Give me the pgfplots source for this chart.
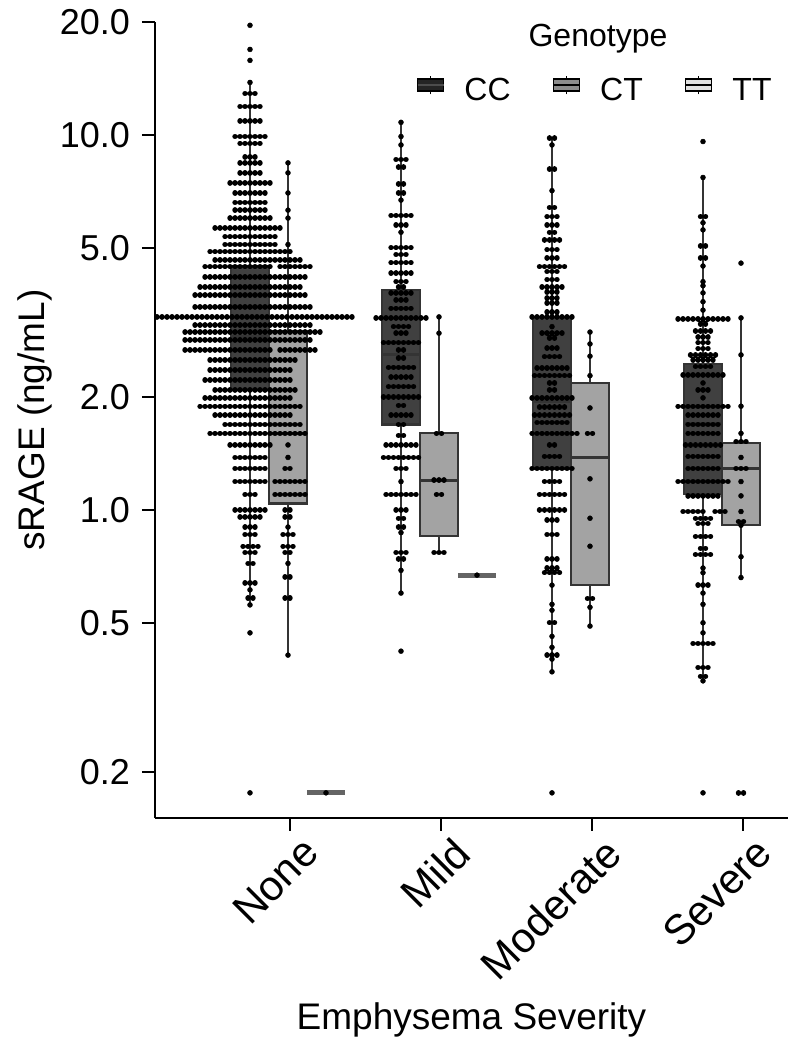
\documentclass[border=0pt]{standalone}
\usepackage{fontspec}
\setmainfont{Liberation Sans}
\usepackage{pgfplots}
\pgfplotsset{compat=1.18}
\definecolor{ccfill}{RGB}{64,64,64}
\definecolor{ctfill}{RGB}{163,163,163}
\definecolor{edge}{RGB}{52,52,52}
\definecolor{ttline}{RGB}{100,100,100}
\definecolor{legcc}{RGB}{36,36,36}
\definecolor{legct}{RGB}{140,140,140}
\definecolor{legtt}{RGB}{224,224,224}
\pgfplotsset{
  swarm/.style={black, line width=2.7pt, line cap=round, dash pattern=on 0.01pt off 2.49pt, unbounded coords=jump, mark=none},
  singles/.style={only marks, mark=*, mark size=1.25pt, mark options={fill=black, draw=black, line width=0.2pt}},
  whisk/.style={edge, line width=1.1pt, mark=none},
  bx/.style={draw=edge, line width=1.1pt, mark=none},
  med/.style={edge, line width=1.4pt, mark=none},
}
\begin{document}
\begin{tikzpicture}
\begin{axis}[
  name=ax,
  scale only axis, width=316.5pt, height=398pt,
  xmin=155, xmax=788, ymode=log, ymin=0.1508, ymax=20,
  axis x line*=bottom, axis y line*=left,
  axis line style={line width=1pt, black},
  xtick={290,441,592,743}, xticklabels={None,Mild,Moderate,Severe},
  ytick={0.2,0.5,1,2,5,10,20}, yticklabels={0.2,0.5,1.0,2.0,5.0,10.0,20.0},
  yminorticks=false, xminorticks=false,
  tick align=outside, major tick length=6.5pt,
  tick style={line width=1pt, black},
  yticklabel style={font=\fontsize{18}{20}\selectfont, xshift=-2.5pt},
  xticklabel style={font=\fontsize{21}{23}\selectfont, rotate=45, anchor=north east, inner sep=0pt, xshift=2.5pt, yshift=-5pt},
  xlabel={Emphysema Severity}, ylabel={sRAGE (ng/mL)},
  label style={font=\fontsize{18.5}{21}\selectfont},
  xlabel style={at={(axis description cs:0.5,-0.266)}, anchor=base},
  ylabel style={at={(axis description cs:-0.19,0.5)}, anchor=center},
  legend columns=3,
  legend style={draw=none, fill=none, at={(axis description cs:0.981,0.913)}, anchor=east,
    font=\fontsize{16}{18}\selectfont, inner sep=0pt,
    /tikz/every odd column/.append style={column sep=8pt},
    /tikz/every even column/.append style={column sep=19pt}},
]
\addlegendimage{legend image code/.code={
  \draw[line width=0.8pt, black] (6.5pt,-1.5pt) -- (6.5pt,7.5pt);
  \draw[line width=0.8pt, black, fill=legcc] (0pt,0pt) rectangle (13pt,6pt);
  \draw[line width=0.8pt, black!70] (0pt,3pt) -- (13pt,3pt);}}
\addlegendentry{CC}
\addlegendimage{legend image code/.code={
  \draw[line width=0.8pt, black] (6.5pt,-1.5pt) -- (6.5pt,7.5pt);
  \draw[line width=0.8pt, black, fill=legct] (0pt,0pt) rectangle (13pt,6pt);
  \draw[line width=0.8pt, black] (0pt,3pt) -- (13pt,3pt);}}
\addlegendentry{CT}
\addlegendimage{legend image code/.code={
  \draw[line width=0.8pt, black] (6.5pt,-1.5pt) -- (6.5pt,7.5pt);
  \draw[line width=0.8pt, black, fill=legtt] (0pt,0pt) rectangle (13pt,6pt);
  \draw[line width=0.8pt, black] (0pt,3pt) -- (13pt,3pt);}}
\addlegendentry{TT}

% whiskers
\addplot[whisk] coordinates {(250,0.558) (250,13.8)};
\addplot[whisk] coordinates {(288,0.41) (288,8.42)};
\addplot[whisk] coordinates {(401,0.60) (401,10.8)};
\addplot[whisk] coordinates {(439,0.77) (439,3.27)};
\addplot[whisk] coordinates {(552,0.37) (552,9.8)};
\addplot[whisk] coordinates {(590,0.49) (590,2.98)};
\addplot[whisk] coordinates {(703,0.35) (703,7.7)};
\addplot[whisk] coordinates {(741,0.66) (741,3.25)};
% boxes
\addplot[bx, fill=ccfill] coordinates {(231,2.09) (269,2.09) (269,4.47) (231,4.47)} --cycle;
\addplot[bx, fill=ctfill] coordinates {(269,1.04) (307,1.04) (307,3.0) (269,3.0)} --cycle;
\addplot[bx, fill=ccfill] coordinates {(382,1.69) (420,1.69) (420,3.86) (382,3.86)} --cycle;
\addplot[bx, fill=ctfill] coordinates {(420,0.85) (458,0.85) (458,1.60) (420,1.60)} --cycle;
\addplot[bx, fill=ccfill] coordinates {(533,1.29) (571,1.29) (571,3.27) (533,3.27)} --cycle;
\addplot[bx, fill=ctfill] coordinates {(571,0.63) (609,0.63) (609,2.18) (571,2.18)} --cycle;
\addplot[bx, fill=ccfill] coordinates {(684,1.10) (722,1.10) (722,2.45) (684,2.45)} --cycle;
\addplot[bx, fill=ctfill] coordinates {(722,0.91) (760,0.91) (760,1.51) (722,1.51)} --cycle;
% medians
\addplot[med] coordinates {(231,2.9) (269,2.9)};
\addplot[med] coordinates {(269,1.60) (307,1.60)};
\addplot[med] coordinates {(382,2.6) (420,2.6)};
\addplot[med] coordinates {(420,1.20) (458,1.20)};
\addplot[med] coordinates {(533,1.95) (571,1.95)};
\addplot[med] coordinates {(571,1.38) (609,1.38)};
\addplot[med] coordinates {(684,1.7) (722,1.7)};
\addplot[med] coordinates {(722,1.29) (760,1.29)};
% TT (all values equal)
\addplot[ttline, line width=2.4pt, mark=none] coordinates {(307,0.176) (345,0.176)};
\addplot[ttline, line width=2.4pt, mark=none] coordinates {(458,0.67) (496,0.67)};

% swarm rows (x from, x to, value)
\addplot[swarm] table[row sep=\\] {x y\\
245 12.9\\ 255.3 12.9\\ nan nan\\ 240 11.9\\ 260.3 11.9\\ nan nan\\ 240 10.9\\ 260.3 10.9\\ nan nan\\
235 9.9\\ 265.3 9.9\\ nan nan\\ 240 9.5\\ 260.3 9.5\\ nan nan\\ 245 8.74\\ 255.3 8.74\\ nan nan\\
240 8.42\\ 260.3 8.42\\ nan nan\\ 240 7.92\\ 260.3 7.92\\ nan nan\\ 230 7.45\\ 270.3 7.45\\ nan nan\\
235 7.0\\ 265.3 7.0\\ nan nan\\ 235 6.6\\ 265.3 6.6\\ nan nan\\ 235 6.3\\ 265.3 6.3\\ nan nan\\
230 6.0\\ 270.3 6.0\\ nan nan\\ 215 5.65\\ 280.3 5.65\\ nan nan\\ 225 5.35\\ 275.3 5.35\\ nan nan\\
225 5.1\\ 275.3 5.1\\ nan nan\\ 210 4.88\\ 290.3 4.88\\ nan nan\\ 215 4.64\\ 300.3 4.64\\ nan nan\\
205 4.45\\ 270.3 4.45\\ nan nan\\ 280 4.45\\ 310.3 4.45\\ nan nan\\ 205 4.18\\ 305.3 4.18\\ nan nan\\
200 3.93\\ 300.3 3.93\\ nan nan\\ 195 3.74\\ 305.3 3.74\\ nan nan\\ 195 3.48\\ 310.3 3.48\\ nan nan\\
157 3.27\\ 352.3 3.27\\ nan nan\\ 195 3.11\\ 310.3 3.11\\ nan nan\\ 185 2.98\\ 320.3 2.98\\ nan nan\\
185 2.84\\ 310.3 2.84\\ nan nan\\ 185 2.67\\ 270.3 2.67\\ nan nan\\ 280 2.67\\ 315.3 2.67\\ nan nan\\
210 2.51\\ 295.3 2.51\\ nan nan\\ 210 2.36\\ 290.3 2.36\\ nan nan\\ 205 2.22\\ 290.3 2.22\\ nan nan\\
215 2.09\\ 295.3 2.09\\ nan nan\\ 205 1.99\\ 290.3 1.99\\ nan nan\\ 200 1.89\\ 300.3 1.89\\ nan nan\\
215 1.79\\ 290.3 1.79\\ nan nan\\ 225 1.69\\ 300.3 1.69\\ nan nan\\ 210 1.60\\ 305.3 1.60\\ nan nan\\
230 1.49\\ 270.3 1.49\\ nan nan\\ 235 1.38\\ 265.3 1.38\\ nan nan\\ 235 1.29\\ 265.3 1.29\\ nan nan\\
285 1.29\\ 290.3 1.29\\ nan nan\\ 235 1.19\\ 265.3 1.19\\ nan nan\\ 275 1.19\\ 305.3 1.19\\ nan nan\\
245 1.10\\ 255.3 1.10\\ nan nan\\ 275 1.10\\ 305.3 1.10\\ nan nan\\ 235 1.0\\ 265.3 1.0\\ nan nan\\
285 1.0\\ 290.3 1.0\\ nan nan\\ 240 0.958\\ 260.3 0.958\\ nan nan\\ 285 0.958\\ 290.3 0.958\\ nan nan\\
245 0.90\\ 255.3 0.90\\ nan nan\\ 245 0.86\\ 255.3 0.86\\ nan nan\\ 283 0.86\\ 293.3 0.86\\ nan nan\\
243 0.80\\ 258.3 0.80\\ nan nan\\ 283 0.80\\ 293.3 0.80\\ nan nan\\ 245 0.77\\ 255.3 0.77\\ nan nan\\
285 0.77\\ 290.3 0.77\\ nan nan\\ 248 0.72\\ 253.3 0.72\\ nan nan\\ 285 0.663\\ 290.3 0.663\\ nan nan\\
245 0.639\\ 255.3 0.639\\ nan nan\\ 248 0.582\\ 253.3 0.582\\ nan nan\\ 285 0.582\\ 290.3 0.582\\ nan nan\\
396 8.6\\ 406.3 8.6\\ nan nan\\ 398.5 8.2\\ 403.8 8.2\\ nan nan\\ 398.5 7.4\\ 403.8 7.4\\ nan nan\\
398.5 7.0\\ 403.8 7.0\\ nan nan\\ 391 6.1\\ 411.3 6.1\\ nan nan\\ 396 5.75\\ 406.3 5.75\\ nan nan\\
391 5.0\\ 411.3 5.0\\ nan nan\\ 396 4.8\\ 406.3 4.8\\ nan nan\\ 391 4.56\\ 411.3 4.56\\ nan nan\\
391 4.28\\ 411.3 4.28\\ nan nan\\ 396 4.06\\ 406.3 4.06\\ nan nan\\ 398.5 3.93\\ 403.8 3.93\\ nan nan\\
391 3.79\\ 411.3 3.79\\ nan nan\\ 396 3.63\\ 406.3 3.63\\ nan nan\\ 391 3.45\\ 411.3 3.45\\ nan nan\\
376 3.25\\ 426.3 3.25\\ nan nan\\ 393.5 3.08\\ 408.8 3.08\\ nan nan\\ 396 2.96\\ 406.3 2.96\\ nan nan\\
383.5 2.79\\ 418.8 2.79\\ nan nan\\ 398.5 2.67\\ 403.8 2.67\\ nan nan\\ 398.5 2.54\\ 403.8 2.54\\ nan nan\\
388.5 2.40\\ 413.8 2.40\\ nan nan\\ 391 2.26\\ 411.3 2.26\\ nan nan\\ 388.5 2.13\\ 413.8 2.13\\ nan nan\\
383.5 2.00\\ 418.8 2.00\\ nan nan\\ 398.5 1.90\\ 403.8 1.90\\ nan nan\\ 391 1.79\\ 411.3 1.79\\ nan nan\\
398.5 1.69\\ 403.8 1.69\\ nan nan\\ 398.5 1.58\\ 403.8 1.58\\ nan nan\\ 386 1.49\\ 416.3 1.49\\ nan nan\\
383.5 1.38\\ 418.8 1.38\\ nan nan\\ 396 1.29\\ 406.3 1.29\\ nan nan\\ 386 1.10\\ 416.3 1.10\\ nan nan\\
396 1.0\\ 406.3 1.0\\ nan nan\\ 398.5 0.95\\ 403.8 0.95\\ nan nan\\ 398.5 0.90\\ 403.8 0.90\\ nan nan\\
396 0.77\\ 406.3 0.77\\ nan nan\\ 398.5 0.74\\ 403.8 0.74\\ nan nan\\
436.5 1.60\\ 441.8 1.60\\ nan nan\\ 434 1.20\\ 444.3 1.20\\ nan nan\\ 436.5 1.10\\ 441.8 1.10\\ nan nan\\
434 0.77\\ 444.3 0.77\\ nan nan\\
549.5 9.8\\ 554.8 9.8\\ nan nan\\ 549.5 8.1\\ 554.8 8.1\\ nan nan\\ 549.5 6.4\\ 554.8 6.4\\ nan nan\\
547 6.05\\ 557.3 6.05\\ nan nan\\ 547 5.75\\ 557.3 5.75\\ nan nan\\ 549.5 5.5\\ 554.8 5.5\\ nan nan\\
544.5 5.25\\ 559.8 5.25\\ nan nan\\ 547 4.94\\ 557.3 4.94\\ nan nan\\ 547 4.70\\ 557.3 4.70\\ nan nan\\
539.5 4.45\\ 564.8 4.45\\ nan nan\\ 547 4.32\\ 557.3 4.32\\ nan nan\\ 547 4.11\\ 557.3 4.11\\ nan nan\\
542 3.93\\ 562.3 3.93\\ nan nan\\ 547 3.81\\ 557.3 3.81\\ nan nan\\ 547 3.67\\ 557.3 3.67\\ nan nan\\
547 3.56\\ 557.3 3.56\\ nan nan\\ 547 3.37\\ 557.3 3.37\\ nan nan\\ 532 3.27\\ 572.3 3.27\\ nan nan\\
542 2.96\\ 562.3 2.96\\ nan nan\\ 549.5 2.87\\ 554.8 2.87\\ nan nan\\ 547 2.70\\ 557.3 2.70\\ nan nan\\
544.5 2.56\\ 559.8 2.56\\ nan nan\\ 537 2.39\\ 567.3 2.39\\ nan nan\\ 534.5 2.28\\ 569.8 2.28\\ nan nan\\
549.5 2.18\\ 554.8 2.18\\ nan nan\\ 549.5 2.09\\ 554.8 2.09\\ nan nan\\ 532 1.99\\ 572.3 1.99\\ nan nan\\
539.5 1.88\\ 564.8 1.88\\ nan nan\\ 534.5 1.79\\ 569.8 1.79\\ nan nan\\ 537 1.71\\ 567.3 1.71\\ nan nan\\
532 1.60\\ 577.3 1.60\\ nan nan\\ 549.5 1.49\\ 554.8 1.49\\ nan nan\\ 544.5 1.39\\ 559.8 1.39\\ nan nan\\
532 1.29\\ 572.3 1.29\\ nan nan\\ 544.5 1.19\\ 559.8 1.19\\ nan nan\\ 539.5 1.10\\ 564.8 1.10\\ nan nan\\
539.5 1.0\\ 564.8 1.0\\ nan nan\\ 547 0.94\\ 557.3 0.94\\ nan nan\\ 547 0.86\\ 557.3 0.86\\ nan nan\\
547 0.74\\ 557.3 0.74\\ nan nan\\ 547 0.70\\ 557.3 0.70\\ nan nan\\ 544.5 0.68\\ 559.8 0.68\\ nan nan\\
549.5 0.50\\ 554.8 0.50\\ nan nan\\ 547 0.41\\ 557.3 0.41\\ nan nan\\
587.5 1.60\\ 592.8 1.60\\ nan nan\\ 587.5 0.58\\ 592.8 0.58\\ nan nan\\
700.5 6.05\\ 705.8 6.05\\ nan nan\\ 700.5 5.06\\ 705.8 5.06\\ nan nan\\ 700.5 4.70\\ 705.8 4.70\\ nan nan\\
678 3.23\\ 728.3 3.23\\ nan nan\\ 700.5 3.13\\ 705.8 3.13\\ nan nan\\ 695.5 3.00\\ 710.8 3.00\\ nan nan\\
698 2.89\\ 708.3 2.89\\ nan nan\\ 698 2.79\\ 708.3 2.79\\ nan nan\\ 698 2.69\\ 708.3 2.69\\ nan nan\\
690.5 2.59\\ 715.8 2.59\\ nan nan\\ 693 2.51\\ 713.3 2.51\\ nan nan\\ 695.5 2.41\\ 710.8 2.41\\ nan nan\\
683 2.29\\ 723.3 2.29\\ nan nan\\ 698 2.09\\ 708.3 2.09\\ nan nan\\ 678 1.89\\ 728.3 1.89\\ nan nan\\
688 1.79\\ 718.3 1.79\\ nan nan\\ 688 1.69\\ 718.3 1.69\\ nan nan\\ 688 1.60\\ 718.3 1.60\\ nan nan\\
685.5 1.49\\ 720.8 1.49\\ nan nan\\ 688 1.39\\ 718.3 1.39\\ nan nan\\ 688 1.29\\ 718.3 1.29\\ nan nan\\
678 1.19\\ 728.3 1.19\\ nan nan\\ 688 1.09\\ 718.3 1.09\\ nan nan\\ 683 0.99\\ 703.3 0.99\\ nan nan\\
715 0.99\\ 725.3 0.99\\ nan nan\\ 695.5 0.95\\ 710.8 0.95\\ nan nan\\ 698 0.92\\ 708.3 0.92\\ nan nan\\
695.5 0.85\\ 710.8 0.85\\ nan nan\\ 700.5 0.79\\ 705.8 0.79\\ nan nan\\ 695.5 0.76\\ 710.8 0.76\\ nan nan\\
698 0.63\\ 708.3 0.63\\ nan nan\\ 693 0.44\\ 713.3 0.44\\ nan nan\\ 698 0.38\\ 708.3 0.38\\ nan nan\\
700.5 0.36\\ 705.8 0.36\\ nan nan\\
736 1.52\\ 746.3 1.52\\ nan nan\\ 736 1.29\\ 746.3 1.29\\ nan nan\\ 738.5 0.93\\ 743.8 0.93\\ nan nan\\
738.5 0.176\\ 743.8 0.176\\ nan nan\\
};
% single dots
\addplot[singles] table[row sep=\\] {x y\\
250 19.6\\ 250 16.9\\ 250 15.8\\ 250 13.8\\ 288 8.42\\ 288 7.92\\ 288 7.0\\ 288 6.3\\ 288 6.0\\ 288 5.1\\
288 1.49\\ 288 1.38\\ 288 0.90\\ 288 0.72\\ 250 0.612\\ 250 0.558\\ 250 0.470\\ 288 0.410\\ 250 0.176\\ 326 0.176\\
401 10.8\\ 401 9.9\\ 401 9.4\\ 401 6.7\\ 401 5.5\\ 401 1.19\\ 401 0.87\\ 401 0.69\\ 401 0.60\\ 401 0.42\\
439 3.27\\ 439 2.96\\ 477 0.67\\
552 9.4\\ 552 7.1\\ 552 3.08\\ 552 0.63\\ 552 0.56\\ 552 0.54\\ 552 0.46\\ 552 0.43\\ 552 0.40\\ 552 0.37\\ 552 0.176\\
590 2.98\\ 590 2.77\\ 590 2.57\\ 590 2.28\\ 590 1.87\\ 590 1.21\\ 590 0.95\\ 590 0.80\\ 590 0.55\\ 590 0.49\\
703 9.6\\ 703 7.7\\ 703 5.83\\ 703 5.58\\ 703 4.47\\ 703 4.06\\ 703 3.96\\ 703 3.79\\ 703 3.59\\ 703 3.41\\
703 2.18\\ 703 1.99\\ 703 0.70\\ 703 0.68\\ 703 0.60\\ 703 0.56\\ 703 0.50\\ 703 0.47\\ 703 0.35\\ 703 0.176\\
741 4.55\\ 741 3.25\\ 741 2.59\\ 741 1.89\\ 741 1.60\\ 741 1.38\\ 741 1.19\\ 741 1.09\\ 741 0.99\\ 741 0.91\\ 741 0.75\\ 741 0.66\\
};
\node[font=\fontsize{16}{18}\selectfont, anchor=base] at (axis description cs:0.6998,0.9686) {Genotype};
\end{axis}
\pgfresetboundingbox
\path[use as bounding box] (-77.5pt,-111pt) rectangle (316.5pt,409pt);
\end{tikzpicture}
\end{document}
